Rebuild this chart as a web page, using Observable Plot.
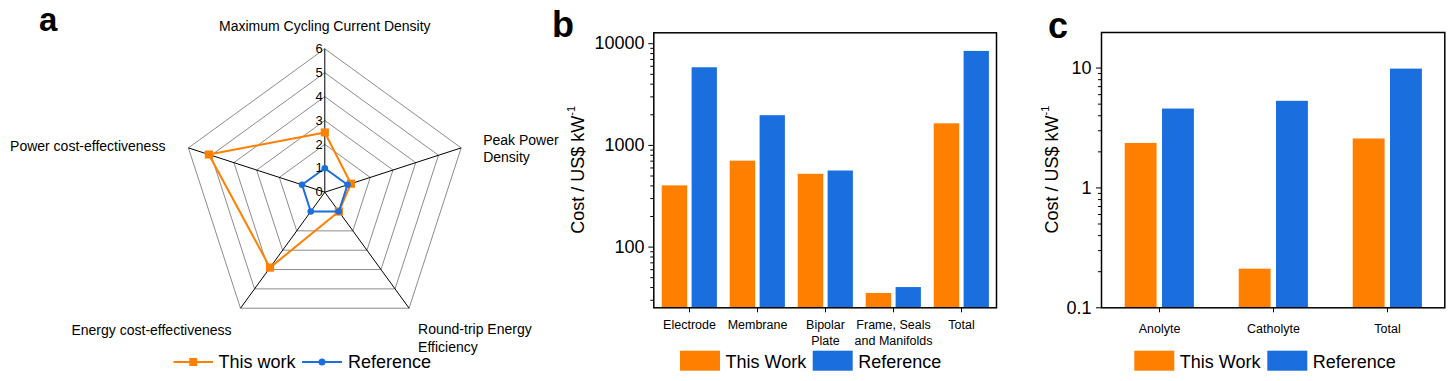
<!DOCTYPE html>
<html><head><meta charset="utf-8">
<script src="https://cdn.jsdelivr.net/npm/d3@7"></script>
<script src="https://cdn.jsdelivr.net/npm/@observablehq/plot@0.6"></script>
<style>
body{margin:0;background:#fff;width:1456px;height:381px;overflow:hidden;position:relative;font-family:"Liberation Sans",Arial,Helvetica,sans-serif;}
.panel{position:absolute;top:0;}
#overlay{position:absolute;left:0;top:0;pointer-events:none;}
</style></head><body>
<div id="pa" class="panel" style="left:0px"></div>
<div id="pb" class="panel" style="left:540px"></div>
<div id="pc" class="panel" style="left:1000px"></div>
<svg id="overlay" width="1456" height="381"></svg>
<script>
// ---------- data ----------
const radarAxes = ["Maximum Cycling Current Density", "Peak Power\nDensity", "Round-trip Energy\nEfficiency", "Energy cost-effectiveness", "Power cost-effectiveness"];
const radarThisWork = [2.5, 1.15, 1.0, 3.9, 5.1];
const radarReference = [1, 1, 1, 1, 1];
const radarTicks = [0, 1, 2, 3, 4, 5, 6];
const radarSeries = ["This work", "Reference"];

const stackCategories = ["Electrode", "Membrane", "Bipolar\nPlate", "Frame, Seals\nand Manifolds", "Total"];
const stackThisWork = [400, 700, 520, 35, 1630];
const stackReference = [5800, 1960, 560, 40, 8400];
const stackTicks = [100, 1000, 10000];

const electrolyteCategories = ["Anolyte", "Catholyte", "Total"];
const electrolyteThisWork = [2.35, 0.21, 2.56];
const electrolyteReference = [4.55, 5.28, 9.8];
const electrolyteTicks = [0.1, 1, 10];

const barSeries = ["This Work", "Reference"];
const colors = ["#FF7F00", "#1A6EDE"];

const FONT = '"Liberation Sans", Arial, Helvetica, sans-serif';

// ---------- panel a: radar ----------
const N = radarAxes.length;
const rMax = radarTicks[radarTicks.length - 1];
const polar = (r, i) => ({x: r * Math.sin(i * 2 * Math.PI / N), y: r * Math.cos(i * 2 * Math.PI / N)});
const ringRows = radarTicks.slice(1).flatMap(level => [...radarAxes.keys(), 0].map(i => ({level, ...polar(level, i)})));
const spokes = radarAxes.map((name, i) => ({name, i, ...polar(rMax, i)}));
const seriesRows = vals => vals.map((v, i) => ({i, ...polar(v, i)}));
const thisRows = seriesRows(radarThisWork);
const refRows = seriesRows(radarReference);
const closed = rows => [...rows, rows[0]];
const cx = 324.3, cy = 191.7, R = 143.4;
const labelOpts = [
  {textAnchor: "middle", dx: 0, dy: -23},
  {textAnchor: "start", dx: 22, dy: 0},
  {textAnchor: "start", dx: 9, dy: 29},
  {textAnchor: "end", dx: -9, dy: 21},
  {textAnchor: "end", dx: -23, dy: -2}
];
const radar = Plot.plot({
  width: 540, height: 381, margin: 0,
  style: {fontFamily: FONT, fontSize: "13px", background: "transparent", color: "black", overflow: "visible"},
  x: {domain: [-rMax, rMax], range: [cx - R, cx + R], axis: null},
  y: {domain: [-rMax, rMax], range: [cy + R, cy - R], axis: null},
  marks: [
    Plot.line(ringRows, {x: "x", y: "y", z: "level", stroke: "#8c8c8c", strokeWidth: 1}),
    Plot.link(spokes, {x1: 0, y1: 0, x2: "x", y2: "y", stroke: "black", strokeWidth: 1}),
    Plot.line(closed(thisRows), {x: "x", y: "y", stroke: colors[0], strokeWidth: 2}),
    Plot.dot(thisRows, {x: "x", y: "y", symbol: "square", r: 4.6, fill: colors[0]}),
    Plot.line(closed(refRows), {x: "x", y: "y", stroke: colors[1], strokeWidth: 2}),
    Plot.dot(refRows, {x: "x", y: "y", symbol: "circle", r: 3.3, fill: colors[1]}),
    Plot.text(radarTicks, {x: 0, y: d => d, text: d => String(d), textAnchor: "end", dx: -2, fontSize: 13}),
    ...spokes.map((s, i) => Plot.text([s], {x: "x", y: "y", text: "name", fontSize: 14, lineHeight: 1.25, ...labelOpts[i]}))
  ]
});
document.getElementById("pa").appendChild(radar);

// ---------- bar panels ----------
function minorTicks(domain) {
  const out = [];
  for (let e = Math.floor(Math.log10(domain[0])); e <= Math.ceil(Math.log10(domain[1])); e++) {
    for (let m = 2; m <= 9; m++) {
      const v = m * Math.pow(10, e);
      if (v >= domain[0] && v <= domain[1]) out.push(v);
    }
  }
  return out;
}
function barPanel({categories, a, b, ticks, domain, width, height, mLeft, mRight, mTop, mBottom, insets, xPad, yPad, labelX}) {
  const rows = categories.flatMap((c, i) => [
    {category: c, series: barSeries[0], value: a[i]},
    {category: c, series: barSeries[1], value: b[i]}
  ]);
  const svg = Plot.plot({
    width, height, marginLeft: mLeft, marginRight: mRight, marginTop: mTop, marginBottom: mBottom,
    style: {fontFamily: FONT, fontSize: "13px", background: "transparent", color: "black", overflow: "visible"},
    x: {domain: categories, padding: 0, axis: null},
    y: {type: "log", domain, axis: null},
    marks: [
      Plot.barY(rows.filter(d => d.series === barSeries[0]), {x: "category", y1: domain[0], y2: "value", fill: colors[0], insetLeft: insets[0], insetRight: insets[1]}),
      Plot.barY(rows.filter(d => d.series === barSeries[1]), {x: "category", y1: domain[0], y2: "value", fill: colors[1], insetLeft: insets[2], insetRight: insets[3]}),
      Plot.axisY({ticks: minorTicks(domain), tickFormat: () => "", tickSize: 3, label: null}),
      Plot.axisY({ticks, tickFormat: d => String(d), tickSize: 5, tickPadding: yPad, fontSize: 18, label: null}),
      Plot.axisX({tickSize: 5, tickPadding: xPad, fontSize: 12.5, lineHeight: 1.25, label: null}),
      Plot.frame({stroke: "black", strokeWidth: 1.5})
    ]
  });
  const t = d3.select(svg).append("text")
    .attr("transform", `translate(${labelX},${mTop + (height - mTop - mBottom) / 2}) rotate(-90)`)
    .attr("text-anchor", "middle").attr("dominant-baseline", "middle")
    .attr("font-family", FONT).attr("font-size", 18).attr("fill", "black");
  t.append("tspan").text("Cost / US$ kW");
  t.append("tspan").attr("font-size", 11).attr("dy", -7).text("-1");
  return svg;
}

document.getElementById("pb").appendChild(barPanel({
  categories: stackCategories, a: stackThisWork, b: stackReference, ticks: stackTicks,
  domain: [25.3, 12800], width: 460, height: 345, mLeft: 113.3, mRight: 4, mTop: 32.3, mBottom: 37.7,
  insets: [6.7, 35.8, 36.6, 6.1], xPad: 5, yPad: 4.3, labelX: 39
}));
document.getElementById("pc").appendChild(barPanel({
  categories: electrolyteCategories, a: electrolyteThisWork, b: electrolyteReference, ticks: electrolyteTicks,
  domain: [0.1, 19.8], width: 456, height: 345, mLeft: 101, mRight: 11.7, mTop: 32, mBottom: 37.7,
  insets: [22.7, 59.4, 60, 22.1], xPad: 9.5, yPad: 5, labelX: 53
}));

// ---------- overlay: panel letters + legends ----------
const ov = d3.select("#overlay").attr("font-family", FONT);
[["a", 39, 30.5, 33], ["b", 552, 37.3, 36], ["c", 1048, 38.2, 36]].forEach(([t, x, y, fs]) =>
  ov.append("text").attr("x", x).attr("y", y).attr("font-size", fs).attr("font-weight", "bold").attr("fill", "black").text(t));

// legend a (line + marker)
const legA = [{x0: 173.5, x1: 213, tx: 218.5, sym: "square"}, {x0: 302, x1: 342, tx: 348, sym: "circle"}];
legA.forEach((l, i) => {
  const y = 362;
  ov.append("line").attr("x1", l.x0).attr("x2", l.x1).attr("y1", y).attr("y2", y).attr("stroke", colors[i]).attr("stroke-width", 2);
  const mx = (l.x0 + l.x1) / 2;
  if (l.sym === "square") ov.append("rect").attr("x", mx - 4).attr("y", y - 4).attr("width", 8).attr("height", 8).attr("fill", colors[i]);
  else ov.append("circle").attr("cx", mx).attr("cy", y).attr("r", 3.5).attr("fill", colors[i]);
  ov.append("text").attr("x", l.tx).attr("y", y).attr("dy", "0.35em").attr("font-size", 18).attr("fill", "black").text(radarSeries[i]);
});

// legends b and c (swatches)
function swatchLegend(x0, gap2) {
  const y0 = 350.7;
  barSeries.forEach((s, i) => {
    const x = x0 + i * gap2;
    ov.append("rect").attr("x", x).attr("y", y0).attr("width", 40).attr("height", 20).attr("fill", colors[i]);
    ov.append("text").attr("x", x + 45.5).attr("y", y0 + 10.5).attr("dy", "0.35em").attr("font-size", 18).attr("fill", "black").text(s);
  });
}
swatchLegend(680, 132.7);
swatchLegend(1134.3, 133);
</script>
</body></html>
